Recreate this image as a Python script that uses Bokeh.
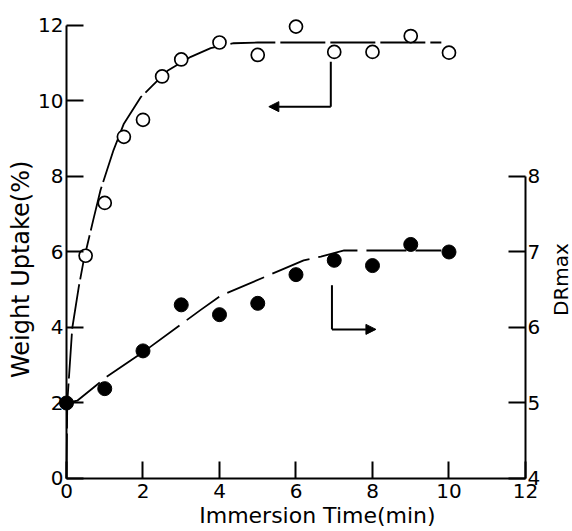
import math
from bokeh.plotting import figure
from bokeh.models import Range1d, LinearAxis, FixedTicker, Label, Arrow, NormalHead
from bokeh.embed import file_html
from bokeh.resources import INLINE

# ---- data ----
uptake_t = [0.5, 1, 1.5, 2, 2.5, 3, 4, 5, 6, 7, 8, 9, 10]
uptake_pct = [5.9, 7.3, 9.05, 9.5, 10.65, 11.1, 11.55, 11.22, 11.97, 11.3, 11.3, 11.72, 11.28]

dr_t = [0, 1, 2, 3, 4, 5, 6, 7, 8, 9, 10]
dr_max = [5.0, 5.19, 5.69, 6.30, 6.17, 6.32, 6.70, 6.89, 6.82, 7.10, 7.00]

# hand-drawn trend curves
uptake_curve_t = [0, 0.02, 0.15, 0.32, 0.45, 0.7, 0.89, 1.23, 1.5, 1.94, 2.24, 2.64, 3.25, 3.77, 4.37, 5.0, 9.8]
uptake_curve_pct = [0, 2.0, 3.98, 5.07, 5.78, 6.85, 7.64, 8.7, 9.4, 10.1, 10.4, 10.8, 11.17, 11.4, 11.53, 11.55, 11.55]

dr_curve_t = [0, 0.28, 1.06, 2.02, 3.5, 4.03, 5.6, 6.2, 6.65, 7.26, 9.8]
dr_curve = [5.0, 5.03, 5.35, 5.68, 6.23, 6.42, 6.76, 6.89, 6.94, 7.02, 7.02]

x_ticks = [0, 2, 4, 6, 8, 10, 12]
left_ticks = [0, 2, 4, 6, 8, 10, 12]
right_ticks = [4, 5, 6, 7, 8]

# indicator arrows (x, y in left-axis units)
arrow_up_x = [6.91, 6.91, 5.29]
arrow_up_y = [11.04, 9.85, 9.85]
arrow_dr_x = [6.94, 6.94, 8.09]
arrow_dr_y = [5.12, 3.95, 3.95]

FONT = "DejaVu Sans"

# frame fills the whole canvas; axes sit at fixed data positions inside it
p = figure(width=572, height=531, output_backend="svg", toolbar_location=None,
           x_range=Range1d(-1.7255, 13.229), y_range=Range1d(-1.404, 12.662),
           min_border=0)
p.extra_y_ranges = {"dr": Range1d(4 + (-1.404) / 2, 4 + 12.662 / 2)}
p.outline_line_color = None
p.xgrid.visible = False
p.ygrid.visible = False
p.background_fill_color = "white"
p.border_fill_color = "white"

def style_axis(ax, ticks, standoff, bounds, loc):
    ax.ticker = FixedTicker(ticks=ticks)
    ax.bounds = bounds
    ax.fixed_location = loc
    ax.axis_line_width = 2
    ax.axis_line_color = "black"
    ax.major_tick_line_width = 2
    ax.major_tick_line_color = "black"
    ax.major_tick_in = 17
    ax.major_tick_out = 0
    ax.minor_tick_line_color = None
    ax.major_label_text_font = FONT
    ax.major_label_text_font_size = "20px"
    ax.major_label_text_color = "black"
    ax.major_label_standoff = standoff

style_axis(p.xaxis[0], x_ticks, 6, (0, 12), 0)
style_axis(p.yaxis[0], left_ticks, 3, (0, 12), 0)

ax_r = LinearAxis(y_range_name="dr")
style_axis(ax_r, right_ticks, 2, (4, 8), 12)
p.add_layout(ax_r, "right")

# curves
p.line(uptake_curve_t, uptake_curve_pct, line_color="black", line_width=1.8, line_dash="45 5")
p.line(dr_curve_t, dr_curve, y_range_name="dr", line_color="black", line_width=1.8, line_dash="40 9")

# points
p.scatter(uptake_t, uptake_pct, size=13, marker="circle", fill_color="white",
          line_color="black", line_width=1.7)
p.scatter(dr_t, dr_max, y_range_name="dr", size=14, marker="circle",
          fill_color="black", line_color="black")

# arrows
p.line(arrow_up_x[:2], arrow_up_y[:2], line_color="black", line_width=2)
p.add_layout(Arrow(x_start=arrow_up_x[1], y_start=arrow_up_y[1], x_end=arrow_up_x[2], y_end=arrow_up_y[2],
                   line_width=2, line_color="black",
                   end=NormalHead(size=10, fill_color="black", line_color="black")))
p.line(arrow_dr_x[:2], arrow_dr_y[:2], line_color="black", line_width=2)
p.add_layout(Arrow(x_start=arrow_dr_x[1], y_start=arrow_dr_y[1], x_end=arrow_dr_x[2], y_end=arrow_dr_y[2],
                   line_width=2, line_color="black",
                   end=NormalHead(size=10, fill_color="black", line_color="black")))

# axis titles
p.add_layout(Label(x=6.56, y=-0.98, text="Immersion Time(min)", text_font=FONT, text_color="black",
                   text_font_size="22px", text_align="center", text_baseline="middle"))
p.add_layout(Label(x=-1.20, y=5.54, text="Weight Uptake(%)", text_font=FONT, angle=math.pi / 2,
                   text_color="black", text_font_size="24px", text_align="center", text_baseline="middle"))
p.add_layout(Label(x=12.92, y=5.27, text="DRmax", text_font=FONT, angle=math.pi / 2,
                   text_color="black", text_font_size="20px", text_align="center", text_baseline="middle"))

open("out.html", "w").write(file_html(p, INLINE))
